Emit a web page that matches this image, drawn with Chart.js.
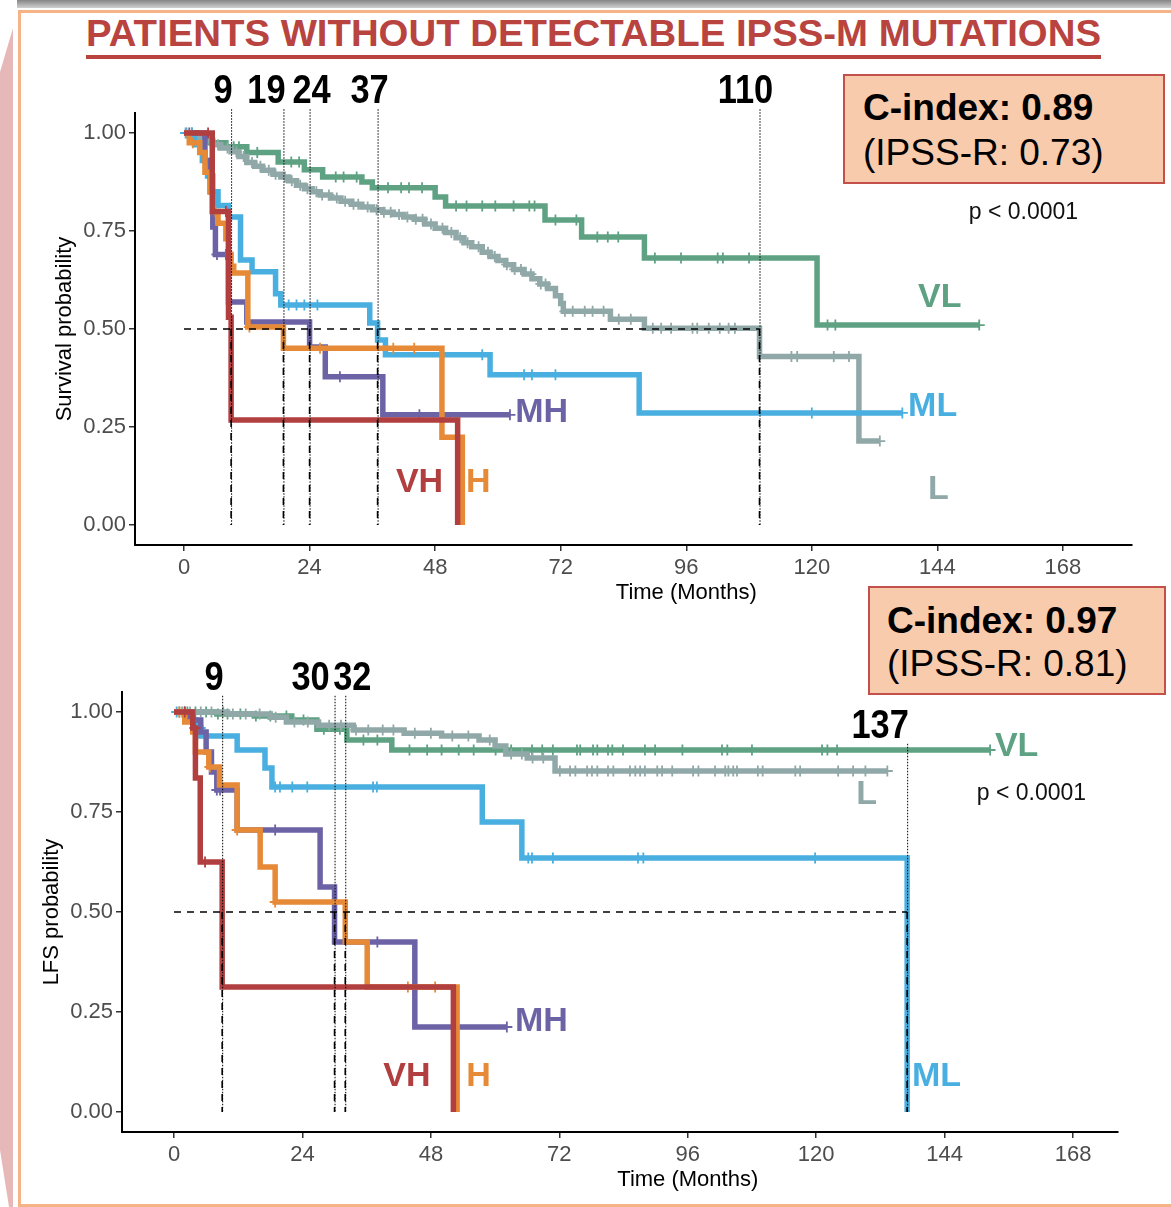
<!DOCTYPE html>
<html>
<head>
<meta charset="utf-8">
<title>Patients without detectable IPSS-M mutations</title>
<script src="https://cdn.jsdelivr.net/npm/chart.js@4.4.1/dist/chart.umd.min.js"></script>
<style>
  html, body { margin: 0; padding: 0; background: #fff; }
  #page { position: relative; width: 1171px; height: 1207px; overflow: hidden; background: #fff; }
  .band { position: absolute; left: 17px; top: 0; width: 1154px; height: 8px; background: linear-gradient(#858585, #d0d0d0); }
  .frame { position: absolute; left: 18px; top: 10px; width: 1200px; height: 1197px; box-sizing: border-box; border: 3px solid #f5b386; }
  .side { position: absolute; left: 0; top: 0; }
  .title { position: absolute; left: 86px; top: 16px; margin: 0; font: bold 36px/36px "Liberation Sans Narrow", "Arial Narrow", "Liberation Sans", sans-serif; color: #b8433f; white-space: nowrap; transform-origin: 0 0; }
  .rule { position: absolute; left: 86px; top: 55px; width: 1015px; height: 4px; background: #b8433f; }
  canvas { position: absolute; left: 0; top: 0; }
  .cbox { position: absolute; box-sizing: border-box; border: 2px solid #c4504c; background: #f8cbad; }
  .cbox div { position: absolute; white-space: nowrap; font: 37px/37px "Liberation Sans", Arial, sans-serif; color: #000; }
  .cbox .b { font-weight: bold; }
</style>
</head>
<body>
<div id="page">
  <div class="band"></div>
  <svg class="side" width="20" height="1207"><polygon points="0,72 13,28 13,1207 9,1207 0,1150" fill="#e6b9b8"/></svg>
  <div class="frame"></div>
  <div class="title" id="title">PATIENTS WITHOUT DETECTABLE IPSS-M MUTATIONS</div>
  <div class="rule"></div>
  <canvas id="os" width="1171" height="1207"></canvas>
  <canvas id="lfs" width="1171" height="1207"></canvas>
  <div class="cbox" style="left:843px;top:74px;width:322px;height:110px;">
    <div class="b" style="left:18px;top:13px;">C-index: 0.89</div>
    <div style="left:18px;top:58px;">(IPSS-R: 0.73)</div>
  </div>
  <div class="cbox" style="left:868px;top:586px;width:298px;height:109px;">
    <div class="b" style="left:17px;top:14px;">C-index: 0.97</div>
    <div style="left:17px;top:57px;">(IPSS-R: 0.81)</div>
  </div>
</div>
<script>
// ---- axes ----
const monthTicks = [0, 24, 48, 72, 96, 120, 144, 168];
const monthTickLabels = ['0', '24', '48', '72', '96', '120', '144', '168'];
const probTicks = [0, 0.25, 0.5, 0.75, 1];
const probTickLabels = ['0.00', '0.25', '0.50', '0.75', '1.00'];
const groupNames = ['VL', 'L', 'ML', 'MH', 'H', 'VH'];

// ---- overall survival: step times (months), survival after each step, censored times ----
const osVL_t = [0, 2.5, 5, 8, 12, 18, 23, 26.5, 34, 36, 48, 50, 69, 76, 88, 121, 152];
const osVL_s = [1, 0.99, 0.975, 0.965, 0.95, 0.926, 0.906, 0.888, 0.875, 0.86, 0.837, 0.814, 0.778, 0.735, 0.681, 0.51, 0.51];
const osVL_c = [1.5, 4, 9.5, 10.5, 14, 20.5, 22, 29, 30.5, 33, 39, 41.5, 43, 45.5, 52, 54, 57, 59.5, 63, 66, 67, 71, 75, 79, 81, 83, 90, 95, 102, 103, 108, 123, 124.5, 152];

const osL_t = [0, 2, 4, 5.5, 7, 9, 10.5, 12, 13.5, 15, 17, 18.5, 20, 21.5, 23, 24.5, 26, 28, 30, 32, 34, 36, 38, 40, 42, 44, 46, 48, 50, 52, 53.5, 55, 57, 58.5, 60, 61.5, 63, 65, 66.5, 68, 69.5, 71, 72, 72.5, 81.5, 88, 110, 129, 133];
const osL_s = [1, 0.99, 0.98, 0.97, 0.962, 0.952, 0.94, 0.925, 0.915, 0.905, 0.895, 0.888, 0.878, 0.867, 0.858, 0.85, 0.842, 0.834, 0.826, 0.818, 0.811, 0.804, 0.798, 0.792, 0.786, 0.78, 0.768, 0.757, 0.746, 0.733, 0.72, 0.71, 0.696, 0.685, 0.675, 0.664, 0.652, 0.64, 0.628, 0.615, 0.603, 0.585, 0.565, 0.545, 0.525, 0.502, 0.43, 0.214, 0.214];
const osL_c = [0.5, 2.2, 3, 5, 6.5, 8.3, 10, 11.4, 13, 14.6, 16.2, 17.5, 19.3, 20.6, 22.2, 23.6, 25.3, 26.4, 27.7, 29.2, 30.8, 32.4, 33.3, 35.1, 36.8, 38.2, 39.5, 41.1, 42.7, 44.3, 45.6, 47.2, 49.4, 51.1, 52.8, 54.2, 56.3, 58.1, 59.4, 61.7, 63.2, 64.4, 66.3, 68.2, 69.1, 72.8, 74.3, 76.6, 78.1, 80.2, 83.1, 85.4, 89.6, 91.2, 93.1, 97.2, 98.1, 100.3, 102.4, 104.1, 105.3, 116.1, 117.2, 124.2, 127.1, 133];

const osML_t = [0, 2, 3.5, 4.5, 5.5, 6.5, 8.5, 10.8, 13, 17.5, 18.5, 35.5, 37, 38.5, 58.5, 87, 137.3];
const osML_s = [1, 0.97, 0.93, 0.89, 0.85, 0.815, 0.786, 0.676, 0.646, 0.59, 0.561, 0.515, 0.472, 0.434, 0.383, 0.286, 0.286];
const osML_c = [0.3, 1.5, 20, 21.5, 23, 25.5, 57, 65, 66.5, 71, 120, 137.3];

const osMH_t = [0, 4, 5, 5.5, 6, 8.5, 12, 24, 27, 38, 62.3];
const osMH_s = [1, 0.93, 0.85, 0.76, 0.69, 0.569, 0.518, 0.454, 0.378, 0.281, 0.281];
const osMH_c = [1, 6.3, 8, 29.8, 45, 62.3];

const osH_t = [0, 1, 3, 4, 5, 5.5, 6.5, 8, 8.5, 9, 9.5, 12.2, 19, 49.3, 53.2];
const osH_s = [1, 0.975, 0.95, 0.9, 0.85, 0.8, 0.77, 0.73, 0.69, 0.66, 0.643, 0.505, 0.451, 0.224, 0];
const osH_c = [1.7, 6, 12.5, 26, 40, 44];

const osVH_t = [0, 5.4, 8.5, 9, 52.3];
const osVH_s = [1, 0.8, 0.53, 0.268, 0];
const osVH_c = [4.6, 8];

const osMedians = [9, 19, 24, 37, 110];

// ---- leukemia-free survival ----
const lfsVL_t = [0, 8, 15, 22, 26.7, 32.3, 40.7, 152.5];
const lfsVL_s = [1, 0.995, 0.99, 0.98, 0.957, 0.93, 0.905, 0.905];
const lfsVL_c = [1, 2.5, 4, 6, 8.2, 10, 12.4, 15.3, 18, 21, 24.2, 28, 31, 35.4, 38, 44, 47.3, 50, 53.2, 56, 60.1, 63, 66.9, 68.8, 70.8, 75.3, 75.9, 78.3, 79.1, 81.1, 81.9, 83.9, 88, 89.9, 95, 102.4, 103.4, 108, 121.1, 122.1, 123.9, 152.5];

const lfsL_t = [0, 10, 18, 21, 27, 33.5, 43, 50, 57, 60, 62, 66, 71.2, 133.3];
const lfsL_s = [1, 0.995, 0.987, 0.975, 0.967, 0.955, 0.947, 0.94, 0.93, 0.915, 0.895, 0.885, 0.8525, 0.8525];
const lfsL_c = [1.5, 3, 5, 7, 9.2, 11, 13.4, 16, 19, 22.5, 25, 29, 31.2, 34, 36.3, 39, 41, 45, 48, 52, 55, 59, 63, 65, 67, 69, 72.1, 74, 75, 77.2, 78.1, 79.1, 81.1, 82.1, 85.2, 86.2, 87.1, 88, 90.3, 91.2, 93.1, 97, 98, 101.1, 103, 103.6, 104.5, 105.2, 109.1, 110, 116.1, 117, 124.1, 126.9, 129.2, 133.3];

const lfsML_t = [0, 2, 4, 5, 11.8, 17, 18.3, 57.6, 65, 137];
const lfsML_s = [1, 0.98, 0.96, 0.94, 0.905, 0.86, 0.8125, 0.725, 0.635, 0];
const lfsML_c = [0.5, 4.9, 6, 18.9, 19.8, 22.1, 24.9, 37.2, 37.9, 66.2, 66.9, 70.8, 86.7, 87.7, 119.8];

const lfsMH_t = [0, 3, 5, 6, 7, 8, 11.8, 27.3, 30, 45, 62.2];
const lfsMH_s = [1, 0.98, 0.95, 0.9, 0.85, 0.805, 0.705, 0.5625, 0.425, 0.2125, 0.2125];
const lfsMH_c = [2, 8, 8.6, 18.9, 38, 62.2];

const lfsH_t = [0, 2, 3.5, 4, 6.5, 8.5, 11.8, 16.1, 18.9, 32, 36.1, 52.9];
const lfsH_s = [1, 0.975, 0.95, 0.9, 0.8625, 0.8175, 0.705, 0.6125, 0.525, 0.425, 0.3125, 0];
const lfsH_c = [1, 6.7, 11.8, 18.9, 43.7, 48.8];

const lfsVH_t = [0, 3.5, 4, 4.9, 9, 52.2];
const lfsVH_s = [1, 0.96, 0.835, 0.625, 0.3125, 0];
const lfsVH_c = [2, 3.9, 5.8];

const lfsMedians = [9, 30, 32, 137];

// ---- styles ----
const groupColors = { VL: '#5fa283', L: '#90a9a8', ML: '#49afe0', MH: '#6c63a6', H: '#e68a37', VH: '#b13f3f' };
const FONT = '"Liberation Sans", Arial, sans-serif';

// ---- layout of each panel ----
const osLayout = {
  padding: { top: 113, left: 0, right: 39, bottom: 602 },
  yAxisWidth: 135, xRange: [-9.37, 181.2], yRange: [-0.051, 1.051],
  medianLabelLevel: [1.104, 1.104, 1.104, 1.104, 1.104],
  medianLabelNudge: [-8, -17, 2, -8, -14],
  groupLabelAt: { VL: [140.3, 0.579], L: [142.2, 0.089], ML: [138.4, 0.301], MH: [63.3, 0.286], H: [53.9, 0.107], VH: [40.5, 0.107] },
  pAt: [150, 0.797], xTitleAt: 96, yTitle: 'Survival probability'
};
const lfsLayout = {
  padding: { top: 692, left: 0, right: 53, bottom: 15 },
  yAxisWidth: 122, xRange: [-9.72, 176.4], yRange: [-0.05, 1.05],
  medianLabelLevel: [1.083, 1.083, 1.083, 0.963],
  medianLabelNudge: [-8, -24, 7, -27],
  groupLabelAt: { VL: [153.4, 0.9125], L: [127.5, 0.7925], ML: [137.9, 0.0875], MH: [63.7, 0.225], H: [54.6, 0.0875], VH: [39.1, 0.0875] },
  pAt: [150, 0.797], xTitleAt: 96, yTitle: 'LFS probability'
};

function survAt(ts, ss, c) {
  let v = ss[0];
  for (let i = 0; i < ts.length; i++) if (ts[i] <= c) v = ss[i];
  return v;
}

function kmDatasets(curves) {
  const out = [];
  curves.forEach((cv, gi) => {
    const col = groupColors[cv.name];
    const depth = groupNames.length - 1 - gi; // later strata drawn on top
    out.push({
      type: 'line', label: cv.name,
      data: cv.t.map((t, i) => ({ x: t, y: cv.s[i] })),
      borderColor: col, backgroundColor: col, borderWidth: 5.5, stepped: 'before',
      pointRadius: 0, fill: false, tension: 0, borderJoinStyle: 'miter', borderCapStyle: 'butt',
      order: depth * 2 + 1
    });
    out.push({
      type: 'scatter', label: cv.name + ' (censored)',
      data: cv.c.map(c => ({ x: c, y: survAt(cv.t, cv.s, c) })),
      pointStyle: 'cross', pointRadius: 5.5, borderColor: col, borderWidth: 1.8, showLine: false,
      order: depth * 2
    });
  });
  return out;
}

function decorPlugin(medians, L) {
  return {
    id: 'kmDecor',
    afterDatasetsDraw(chart) {
      const { ctx, scales: { x, y } } = chart;
      ctx.save();
      ctx.strokeStyle = '#000';
      // 50% reference line and median drops
      ctx.lineWidth = 1.6;
      ctx.setLineDash([7, 6]);
      const yHalf = y.getPixelForValue(0.5), yZero = y.getPixelForValue(0);
      ctx.beginPath();
      ctx.moveTo(x.getPixelForValue(0), yHalf);
      ctx.lineTo(x.getPixelForValue(Math.max(...medians)), yHalf);
      medians.forEach(m => {
        const px = x.getPixelForValue(m);
        ctx.moveTo(px, yHalf);
        ctx.lineTo(px, yZero);
      });
      ctx.stroke();
      // fine dotted guides from each median label down to the baseline
      ctx.lineWidth = 1;
      ctx.setLineDash([1.5, 1.5]);
      ctx.beginPath();
      medians.forEach((m, i) => {
        const px = x.getPixelForValue(m) + 0.5;
        ctx.moveTo(px, y.getPixelForValue(L.medianLabelLevel[i]) + 17);
        ctx.lineTo(px, yZero);
      });
      ctx.stroke();
      ctx.restore();
    },
    afterDraw(chart) {
      const { ctx, chartArea: a, scales: { x, y } } = chart;
      ctx.save();
      ctx.textBaseline = 'middle';
      // median values, in a condensed bold face
      ctx.fillStyle = '#000';
      ctx.font = 'bold 40px ' + FONT;
      ctx.textAlign = 'center';
      medians.forEach((m, i) => {
        ctx.save();
        ctx.translate(x.getPixelForValue(m) + L.medianLabelNudge[i], y.getPixelForValue(L.medianLabelLevel[i]));
        ctx.scale(0.86, 1);
        ctx.fillText(String(m), 0, 0);
        ctx.restore();
      });
      // strata names
      ctx.font = 'bold 34px ' + FONT;
      ctx.textAlign = 'left';
      groupNames.forEach(g => {
        const p = L.groupLabelAt[g];
        ctx.fillStyle = groupColors[g];
        ctx.fillText(g, x.getPixelForValue(p[0]), y.getPixelForValue(p[1]));
      });
      // log-rank p value
      ctx.fillStyle = '#111';
      ctx.font = '23px ' + FONT;
      ctx.fillText('p < 0.0001', x.getPixelForValue(L.pAt[0]), y.getPixelForValue(L.pAt[1]));
      // axis titles
      ctx.fillStyle = '#000';
      ctx.font = '22px ' + FONT;
      ctx.textAlign = 'center';
      ctx.fillText('Time (Months)', x.getPixelForValue(L.xTitleAt), a.bottom + 48);
      ctx.translate(a.left - 70, (a.top + a.bottom) / 2);
      ctx.rotate(-Math.PI / 2);
      ctx.fillText(L.yTitle, 0, 0);
      ctx.restore();
    }
  };
}

function kmChart(id, curves, medians, L) {
  return new Chart(document.getElementById(id), {
    type: 'line',
    data: { datasets: kmDatasets(curves) },
    options: {
      responsive: false, animation: false, events: [],
      layout: { padding: L.padding },
      plugins: { legend: { display: false }, tooltip: { enabled: false } },
      scales: {
        x: {
          type: 'linear', position: 'bottom', min: L.xRange[0], max: L.xRange[1],
          afterBuildTicks: s => { s.ticks = monthTicks.map(v => ({ value: v })); },
          afterFit: s => { s.height = 60; },
          ticks: { autoSkip: false, maxRotation: 0, padding: 4, color: '#4d4d4d', font: { size: 22, family: FONT },
                   callback: v => monthTickLabels[monthTicks.indexOf(v)] },
          grid: { drawOnChartArea: false, drawTicks: true, tickLength: 6, color: '#333', lineWidth: 1.5 },
          border: { display: true, color: '#000', width: 2 }
        },
        y: {
          type: 'linear', position: 'left', min: L.yRange[0], max: L.yRange[1],
          afterBuildTicks: s => { s.ticks = probTicks.map(v => ({ value: v })); },
          afterFit: s => { s.width = L.yAxisWidth; },
          ticks: { autoSkip: false, padding: 3, color: '#4d4d4d', font: { size: 22, family: FONT },
                   callback: v => probTickLabels[probTicks.indexOf(v)] },
          grid: { drawOnChartArea: false, drawTicks: true, tickLength: 6, color: '#333', lineWidth: 1.5 },
          border: { display: true, color: '#000', width: 2 }
        }
      }
    },
    plugins: [decorPlugin(medians, L)]
  });
}

kmChart('os', [
  { name: 'VL', t: osVL_t, s: osVL_s, c: osVL_c },
  { name: 'L', t: osL_t, s: osL_s, c: osL_c },
  { name: 'ML', t: osML_t, s: osML_s, c: osML_c },
  { name: 'MH', t: osMH_t, s: osMH_s, c: osMH_c },
  { name: 'H', t: osH_t, s: osH_s, c: osH_c },
  { name: 'VH', t: osVH_t, s: osVH_s, c: osVH_c }
], osMedians, osLayout);

kmChart('lfs', [
  { name: 'VL', t: lfsVL_t, s: lfsVL_s, c: lfsVL_c },
  { name: 'L', t: lfsL_t, s: lfsL_s, c: lfsL_c },
  { name: 'ML', t: lfsML_t, s: lfsML_s, c: lfsML_c },
  { name: 'MH', t: lfsMH_t, s: lfsMH_s, c: lfsMH_c },
  { name: 'H', t: lfsH_t, s: lfsH_s, c: lfsH_c },
  { name: 'VH', t: lfsVH_t, s: lfsVH_s, c: lfsVH_c }
], lfsMedians, lfsLayout);

// stretch the heading to its full underlined width
const title = document.getElementById('title');
const tw = title.getBoundingClientRect().width;
title.style.transform = 'scaleX(' + (1015 / tw) + ')';
</script>
</body>
</html>
